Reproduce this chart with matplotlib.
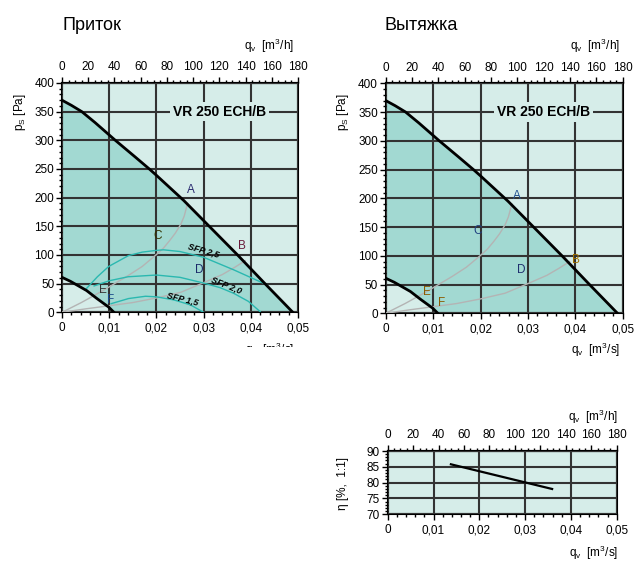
import numpy as np
import matplotlib.pyplot as plt
from matplotlib.ticker import MultipleLocator, FixedLocator, FuncFormatter

plt.rcParams['font.family'] = ['Liberation Sans', 'DejaVu Sans']

# fan curves, q in m3/s, p in Pa
q_max = [0, 0.0020, 0.0042, 0.0070, 0.0113, 0.0155, 0.0185, 0.0200, 0.0258, 0.0312, 0.0372, 0.0430, 0.0489]
p_max = [370, 361, 350, 331, 300, 271, 250, 239, 195, 150, 100, 50, 0]
q_min = [0, 0.0018, 0.0035, 0.0052, 0.0074, 0.0099, 0.0110]
p_min = [61, 54, 46, 38, 24, 9, 0]

# system curves
q_sysA = [0, 0.0041, 0.0087, 0.0140, 0.0170, 0.0199, 0.0215, 0.0228, 0.0240, 0.0252, 0.0259, 0.0266]
p_sysA = [0, 17, 38, 64, 80, 100, 112, 125, 138, 154, 168, 190]
q_sysB = [0, 0.0050, 0.0105, 0.0150, 0.0200, 0.0252, 0.0301, 0.0340, 0.0365, 0.0388]
p_sysB = [0, 6, 12, 17, 25, 35, 52, 66, 78, 90]

# SFP curves (supply only)
q_sfp25 = [0.0049, 0.0075, 0.0099, 0.0141, 0.0170, 0.0200, 0.0215, 0.0250, 0.0300, 0.0364, 0.0434]
p_sfp25 = [39, 62, 80, 99, 105, 108, 109, 106, 96, 74, 48]
q_sfp20 = [0.0068, 0.0100, 0.0140, 0.0200, 0.0250, 0.0300, 0.0335, 0.0364, 0.0395, 0.0420]
p_sfp20 = [46, 55, 62, 65, 61, 51, 43, 33, 19, 1]
q_sfp15 = [0.0104, 0.0141, 0.0177, 0.0200, 0.0237, 0.0272, 0.0300]
p_sfp15 = [15, 24, 28, 27, 21.6, 13, 0]

# operating point labels
pts_names = ['A', 'B', 'C', 'D', 'E', 'F']
pts_q_sup = [0.0273, 0.0381, 0.0203, 0.0290, 0.0087, 0.0104]
pts_p_sup = [213, 116, 133, 74, 39, 21]
pts_q_ext = [0.0277, 0.0401, 0.0193, 0.0285, 0.0087, 0.0117]
pts_p_ext = [204, 93, 143, 75, 37, 18]

# efficiency
q_eff = [0.0138, 0.0359]
eta = [85.8, 78.0]

h_ticks = list(range(0, 181, 20))

LIGHT = '#d6ede9'
DARK = '#a2d9d2'
GRID = '#333333'
TEAL = '#2bb8b0'
GRAY = '#b4b4b4'


def comma(v, pos):
    if abs(v) < 1e-9:
        return '0'
    return f'{v:.2f}'.replace('.', ',')


def base_axes(rect, ymin, ymax, ymajor, yminor):
    ax = fig.add_axes(rect)
    ax.set_xlim(0, 0.05)
    ax.set_ylim(ymin, ymax)
    ax.set_facecolor(LIGHT)
    ax.xaxis.set_major_locator(MultipleLocator(0.01))
    ax.xaxis.set_minor_locator(MultipleLocator(0.002))
    ax.xaxis.set_major_formatter(FuncFormatter(comma))
    ax.yaxis.set_major_locator(MultipleLocator(ymajor))
    ax.yaxis.set_minor_locator(MultipleLocator(yminor))
    ax.tick_params(which='major', direction='out', length=4, width=1, labelsize=8.5, pad=3)
    ax.tick_params(which='minor', direction='out', length=2.5, width=1)
    ax.tick_params(axis='y', pad=1.5)
    ax.set_axisbelow(False)
    ax.grid(which='major', color=GRID, lw=1.5)
    for s in ax.spines.values():
        s.set_linewidth(1.5)
    sec = ax.secondary_xaxis('top', functions=(lambda q: q * 3600, lambda h: h / 3600))
    sec.xaxis.set_major_locator(FixedLocator(h_ticks))
    sec.xaxis.set_minor_locator(FixedLocator(np.arange(0, 181, 5)))
    sec.tick_params(which='major', direction='out', length=4, width=1, labelsize=8.5, pad=3)
    sec.tick_params(which='minor', direction='out', length=2.5, width=1)
    sec.spines['top'].set_linewidth(1.5)
    return ax


def pressure_chart(rect, names, pq, pp, colors, sfp):
    ax = base_axes(rect, 0, 400, 50, 10)
    ax.fill(q_max + q_min[::-1], p_max + p_min[::-1], color=DARK, lw=0, zorder=1)
    ax.plot(q_sysA, p_sysA, color=GRAY, lw=1, zorder=3)
    ax.plot(q_sysB, p_sysB, color=GRAY, lw=1, zorder=3)
    if sfp:
        ax.plot(q_sfp25, p_sfp25, color=TEAL, lw=1, zorder=3)
        ax.plot(q_sfp20, p_sfp20, color=TEAL, lw=1, zorder=3)
        ax.plot(q_sfp15, p_sfp15, color=TEAL, lw=1, zorder=3)
        kw = dict(fontsize=6.5, fontweight='bold', fontstyle='italic', ha='center', va='center', zorder=5)
        ax.text(0.0300, 108, 'SFP 2,5', rotation=-16, **kw)
        ax.text(0.0349, 47, 'SFP 2,0', rotation=-22, **kw)
        ax.text(0.0256, 24, 'SFP 1,5', rotation=-14, **kw)
    ax.plot(q_max, p_max, color='black', lw=2, zorder=4)
    ax.plot(q_min, p_min, color='black', lw=2, zorder=4)
    for n, x, y, c in zip(names, pq, pp, colors):
        ax.text(x, y, n, fontsize=8.5, color=c, ha='center', va='center', zorder=5)
    ax.text(0.0333, 350, 'VR 250 ECH/B', fontsize=10, fontweight='bold', ha='center', va='center',
            zorder=5, bbox=dict(facecolor=LIGHT, edgecolor='none', pad=2))
    return ax


fig = plt.figure(figsize=(6.41, 5.69), dpi=100)
W, H = 641, 569


def rect(x0, y0, x1, y1):
    return [x0 / W, 1 - y1 / H, (x1 - x0) / W, (y1 - y0) / H]


pressure_chart(rect(62, 83, 298, 312.3), pts_names, pts_q_sup, pts_p_sup,
               ['#2a2a70', '#6a1a3a', '#333300', '#1a2a6a', '#333333', '#1a4a8a'], True)
pressure_chart(rect(385.7, 83.3, 622.7, 313.3), pts_names, pts_q_ext, pts_p_ext,
               ['#1f4f8f', '#a07000', '#1f3f7f', '#1f2f6f', '#8b5a00', '#8b5a00'], False)

ax3 = base_axes(rect(387.7, 451, 616.7, 514.3), 70, 90, 5, 1)
ax3.plot(q_eff, eta, color='black', lw=1.6, zorder=4)

# titles and axis labels
fig.text(62 / W, 1 - 25 / H, 'Приток', fontsize=13, ha='left', va='center')
fig.text(385 / W, 1 - 25 / H, 'Вытяжка', fontsize=13, ha='left', va='center')
lab = dict(fontsize=8.5, ha='right', va='center')
fig.text(294 / W, 1 - 46 / H, 'q$_\\mathregular{v}$  [m$^\\mathregular{3}$/h]', **lab)
fig.text(620 / W, 1 - 46 / H, 'q$_\\mathregular{v}$  [m$^\\mathregular{3}$/h]', **lab)
fig.text(294 / W, 1 - 350 / H, 'q$_\\mathregular{v}$  [m$^\\mathregular{3}$/s]', **lab)
fig.text(620 / W, 1 - 350 / H, 'q$_\\mathregular{v}$  [m$^\\mathregular{3}$/s]', **lab)
fig.text(618 / W, 1 - 417 / H, 'q$_\\mathregular{v}$  [m$^\\mathregular{3}$/h]', **lab)
fig.text(618 / W, 1 - 553 / H, 'q$_\\mathregular{v}$  [m$^\\mathregular{3}$/s]', **lab)
ylab = dict(fontsize=8.5, ha='center', va='center', rotation=90)
fig.text(20 / W, 1 - 112 / H, 'p$_\\mathregular{S}$ [Pa]', **ylab)
fig.text(343 / W, 1 - 112 / H, 'p$_\\mathregular{S}$ [Pa]', **ylab)
fig.text(343 / W, 1 - 483 / H, 'η [%,  1:1]', **ylab)

# the supply chart's lower label is cut off in the source
fig.patches.append(plt.Rectangle((0, 0), 320 / W, 1 - 347 / H, transform=fig.transFigure,
                                 facecolor='white', edgecolor='none', zorder=10))

fig.savefig('out.png', dpi=100, facecolor='white')
